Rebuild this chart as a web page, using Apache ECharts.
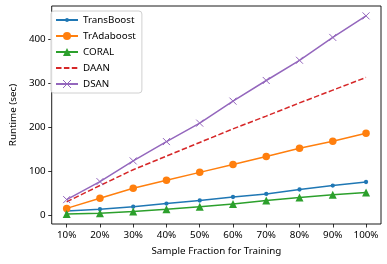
<!DOCTYPE html>
<html><head><meta charset="utf-8">
<script src="https://cdn.jsdelivr.net/npm/echarts@6/dist/echarts.min.js"></script>
<style>html,body{margin:0;padding:0;background:#fff}#c{width:387px;height:264px}</style>
</head><body><div id="c"></div>
<script>
const categories = ['10%','20%','30%','40%','50%','60%','70%','80%','90%','100%'];
const transBoost = [10, 14, 20, 27, 34, 42, 49, 59, 68, 76];
const trAdaboost = [16, 39, 62, 80, 98, 116, 134, 153, 169, 187];
const coral = [3, 5, 9, 14, 20, 26, 34, 41, 47, 52];
const daan = [31, 68, 104, 135, 166, 197, 226, 256, 285, 314];
const dsan = [36, 77, 124, 168, 210, 260, 307, 353, 405, 454];
const yTicks = [0, 100, 200, 300, 400];
const seriesNames = ['TransBoost','TrAdaboost','CORAL','DAAN','DSAN'];
const colors = ['#1f77b4','#ff7f0e','#2ca02c','#d62728','#9467bd'];

const pairs = arr => arr.map((v, i) => [i, v]);
const font = 'Noto Sans';
const fs = 9.8;
const txt = '#000';
const xIdx = categories.map((c, i) => i);
// small dot inside a larger (invisible) bounding box, like matplotlib '.'
const dotPath = 'path://M0,0M10,10M5,2.6A2.4,2.4,0,1,1,5,7.4A2.4,2.4,0,1,1,5,2.6Z';
const crossPath = 'path://M0,0L10,10M10,0L0,10';

const chart = echarts.init(document.getElementById('c'), null, {renderer: 'canvas'});
const base = (name, data, color) => ({
  name, type: 'line', data: pairs(data), color,
  lineStyle: {width: 1.5, color}, itemStyle: {color},
  animation: false, z: 3
});
chart.setOption({
  animation: false,
  backgroundColor: '#fff',
  grid: {left: 46, right: 6, top: 6, bottom: 40, show: true, borderColor: '#000', borderWidth: 0.9, backgroundColor: 'transparent'},
  legend: {
    orient: 'vertical', left: 51, top: 11,
    data: [
      {name: seriesNames[0]},
      {name: seriesNames[1]},
      {name: seriesNames[2]},
      {name: seriesNames[3], itemStyle: {opacity: 0}},
      {name: seriesNames[4], itemStyle: {borderWidth: 1}}
    ],
    itemWidth: 22, itemHeight: 10, itemGap: 6,
    padding: [4, 6, 4, 4],
    backgroundColor: 'rgba(255,255,255,0.85)', borderColor: '#d0d0d0', borderWidth: 1, borderRadius: 3,
    textStyle: {fontFamily: font, fontSize: fs, color: txt}
  },
  xAxis: {
    type: 'value', min: -0.45, max: 9.45,
    name: 'Sample Fraction for Training', nameLocation: 'middle', nameGap: 22,
    nameTextStyle: {fontFamily: font, fontSize: fs, color: txt, verticalAlign: 'top'},
    axisLine: {show: false, onZero: false},
    axisTick: {show: true, length: 3.5, lineStyle: {color: '#000', width: 0.8}, customValues: xIdx},
    axisLabel: {fontFamily: font, fontSize: fs, color: txt, margin: 6, customValues: xIdx,
      formatter: v => categories[Math.round(v)]},
    splitLine: {show: false}
  },
  yAxis: {
    type: 'value', min: -19.5, max: 476.5,
    name: 'Runtime (sec)', nameLocation: 'middle', nameGap: 30, nameRotate: 90,
    nameTextStyle: {fontFamily: font, fontSize: fs, color: txt},
    axisLine: {show: false, onZero: false},
    axisTick: {show: true, length: 3.5, lineStyle: {color: '#000', width: 0.8}, customValues: yTicks},
    axisLabel: {fontFamily: font, fontSize: fs, color: txt, margin: 6, customValues: yTicks},
    splitLine: {show: false}
  },
  series: [
    Object.assign(base(seriesNames[0], transBoost, colors[0]), {symbol: dotPath, symbolSize: 9}),
    Object.assign(base(seriesNames[1], trAdaboost, colors[1]), {symbol: 'circle', symbolSize: 7.5}),
    Object.assign(base(seriesNames[2], coral, colors[2]), {symbol: 'triangle', symbolSize: 8}),
    Object.assign(base(seriesNames[3], daan, colors[3]), {symbol: 'none', showSymbol: false,
      lineStyle: {width: 1.5, color: colors[3], type: [5.5, 2.4]}}),
    Object.assign(base(seriesNames[4], dsan, colors[4]), {symbol: crossPath, symbolSize: 7,
      itemStyle: {color: colors[4], borderColor: colors[4], borderWidth: 1}})
  ]
});
</script></body></html>
